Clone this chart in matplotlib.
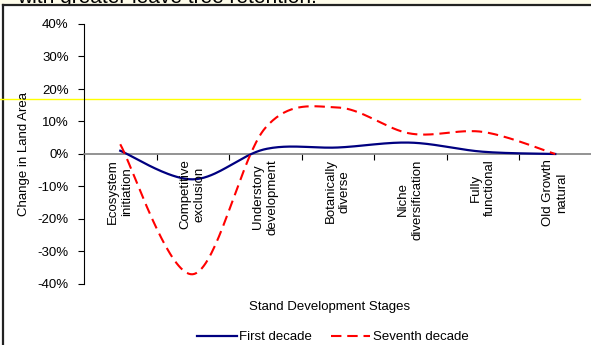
import numpy as np
import matplotlib.pyplot as plt
from matplotlib.ticker import PercentFormatter
from matplotlib.lines import Line2D
from matplotlib.patches import Rectangle

plt.rcParams['font.family'] = ['Liberation Sans', 'DejaVu Sans']
plt.rcParams['axes.unicode_minus'] = False

# etapas de desarrollo del rodal
stages = ["Ecosystem\ninitiation", "Competitive\nexclusion", "Understory\ndevelopment",
          "Botanically\ndiverse", "Niche\ndiversification", "Fully\nfunctional",
          "Old Growth\nnatural"]
first_decade = [1.0, -7.8, 1.5, 2.0, 3.5, 0.7, 0.0]
seventh_decade = [3.0, -37.0, 8.0, 14.3, 6.3, 6.8, 0.0]
y_ticks = [-40, -30, -20, -10, 0, 10, 20, 30, 40]
reference_level = 17.0


def suavizar(xs, ys, n=40):
    # curva bezier tipo Excel (catmull-rom) que pasa por todos los puntos
    p = np.column_stack([xs, ys]).astype(float)
    p = np.vstack([p[0], p, p[-1]])
    out = []
    for i in range(1, len(p) - 2):
        p0, p1, p2, p3 = p[i - 1], p[i], p[i + 1], p[i + 2]
        c1 = p1 + (p2 - p0) / 6.0
        c2 = p2 - (p3 - p1) / 6.0
        t = np.linspace(0, 1, n)[:, None]
        seg = ((1 - t) ** 3) * p1 + 3 * ((1 - t) ** 2) * t * c1 + 3 * (1 - t) * t ** 2 * c2 + t ** 3 * p2
        out.append(seg if i == 1 else seg[1:])
    out = np.vstack(out)
    return out[:, 0], out[:, 1]


W, H = 591, 345
FS = 9.5
fig = plt.figure(figsize=(W / 100, H / 100), dpi=100)

# franja superior con el titulo cortado
fig.patches.append(Rectangle((0, 1 - 5 / H), 1, 5 / H, transform=fig.transFigure,
                             facecolor='#fffdeb', edgecolor='none', zorder=0))
fig.text(17 / W, 1 - 3 / H, "with greater leave tree retention.", fontsize=15,
         ha='left', va='baseline', color='black', zorder=1)
# marco del grafico
fig.patches.append(Rectangle((0, 0), 1, 1 - 5 / H, transform=fig.transFigure,
                             facecolor='white', edgecolor='none', zorder=2))
fig.add_artist(Line2D([2.5 / W, 2.5 / W], [0, 1 - 5 / H], transform=fig.transFigure,
                      color='#222222', lw=1.6, zorder=3))
fig.add_artist(Line2D([2.5 / W, 1], [1 - 5 / H, 1 - 5 / H], transform=fig.transFigure,
                      color='#222222', lw=1.6, zorder=3))

ax = fig.add_axes([84 / W, 1 - 284 / H, 507.5 / W, 260 / H])
ax.set_facecolor('none')
ax.set_zorder(4)

x = np.arange(len(stages))
bx, by = suavizar(x, first_decade)
rx, ry = suavizar(x, seventh_decade)
ax.plot(bx, by, color='#000080', lw=1.6, label='First decade', zorder=3)
ax.plot(rx, ry, color='#ff0000', lw=1.5, dashes=(5, 2.8), label='Seventh decade', zorder=3)

ax.set_xlim(-0.5, len(stages) - 0.5)
ax.set_ylim(-40, 40)
ax.set_yticks(y_ticks)
ax.yaxis.set_major_formatter(PercentFormatter(xmax=100, decimals=0))
ax.tick_params(axis='y', direction='out', length=4, width=0.8, labelsize=FS, pad=7)

# eje de categorias cruzando en 0
ax.spines['top'].set_visible(False)
ax.spines['right'].set_visible(False)
ax.spines['left'].set_color('black')
ax.spines['bottom'].set_position(('data', 0))
ax.spines['bottom'].set_color('#808080')
ax.spines['bottom'].set_linewidth(1.2)
ax.set_xticks(np.arange(len(stages) + 1) - 0.5)
ax.set_xticklabels([])
ax.tick_params(axis='x', direction='out', length=4, width=0.8, color='black')

for i, s in enumerate(stages):
    ax.text(i, -1.6, s, rotation=90, ha='center', va='top', multialignment='center',
            fontsize=FS)

ax.set_ylabel('Change in Land Area', fontsize=FS)
ax.yaxis.set_label_coords((30 - 84) / 507.5, 0.5)
fig.text(330 / W, 1 - 307 / H, 'Stand Development Stages', fontsize=FS,
         ha='center', va='center')

# linea horizontal amarilla de referencia
ax.axhline(reference_level, xmin=-84 / 507.5, xmax=(580 - 84) / 507.5, color='#ffff00',
           lw=1.0, clip_on=False, zorder=1)

ax.legend(loc='center', bbox_to_anchor=(333 / W, 1 - 337 / H), bbox_transform=fig.transFigure,
          ncol=2, frameon=False, fontsize=FS, handlelength=3.0, handletextpad=0.2,
          columnspacing=1.4, borderaxespad=0, borderpad=0)

plt.savefig('out.png', dpi=100)
